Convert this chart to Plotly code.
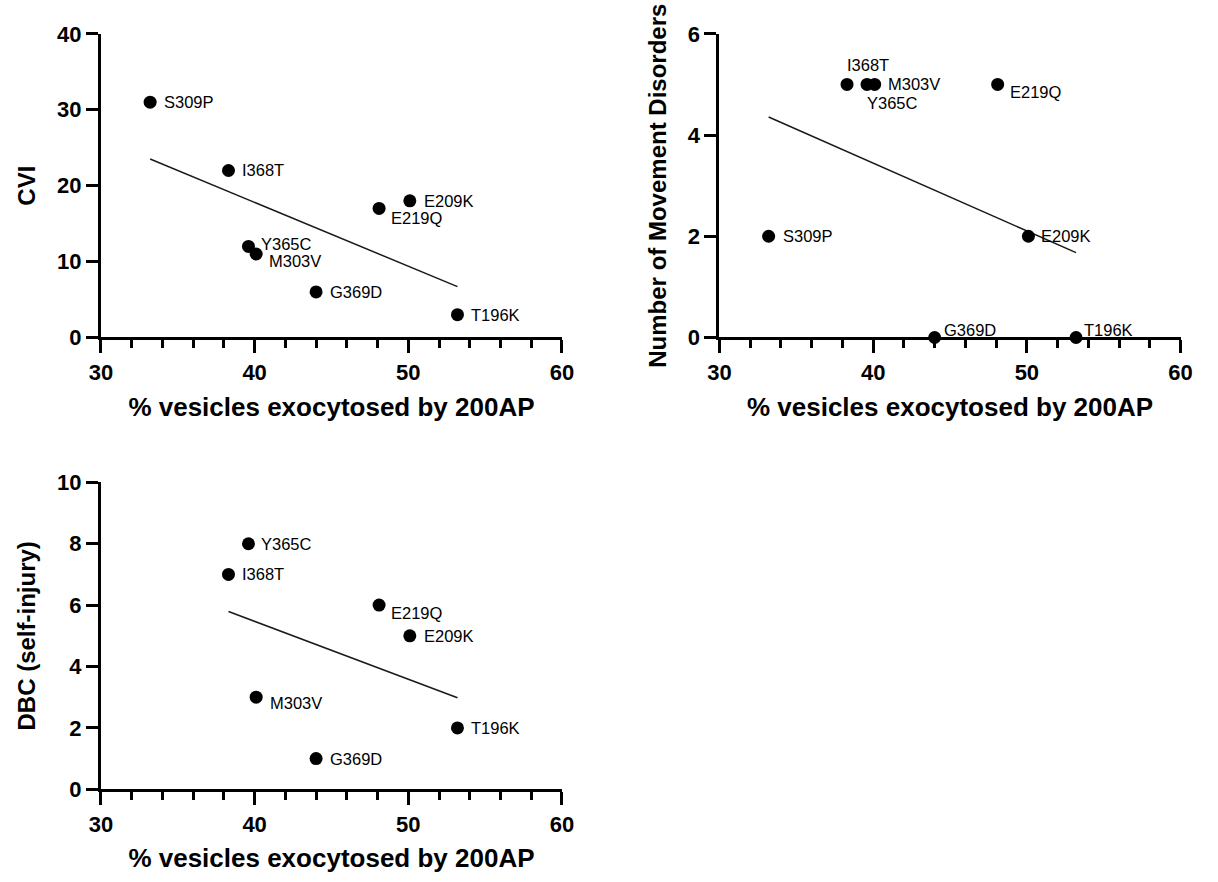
import numpy as np
import plotly.graph_objects as go

# Per-variant measurements
variants = ["S309P", "I368T", "Y365C", "M303V", "G369D", "E219Q", "E209K", "T196K"]
exocytosed = [33.2, 38.3, 39.6, 40.1, 44.0, 48.1, 50.1, 53.2]   # % vesicles exocytosed by 200AP
cvi = [31, 22, 12, 11, 6, 17, 18, 3]
movement_disorders = [2, 5, 5, 5, 0, 5, 2, 0]
dbc_self_injury = [None, 7, 8, 3, 1, 6, 5, 2]   # S309P has no DBC score

x_ticks = [30, 40, 50, 60]

# Label placement (pixel shifts from the point: dx, dy)
label_shift_cvi = {
    "S309P": (12, 0), "I368T": (12, 0), "Y365C": (11, 2), "M303V": (11, -7),
    "G369D": (12, 0), "E219Q": (10, -10), "E209K": (12, 0), "T196K": (12, 0),
}
label_shift_move = {
    "S309P": (12, 0), "I368T": (-2, 19), "Y365C": (-2, -19), "M303V": (11, 0),
    "G369D": (7, 7), "E219Q": (10, -8), "E209K": (11, 0), "T196K": (6, 7),
}
label_shift_dbc = {
    "I368T": (12, 0), "Y365C": (11, 0), "M303V": (12, -6),
    "G369D": (12, 0), "E219Q": (10, -8), "E209K": (12, 0), "T196K": (12, 0),
}

FONT = "Liberation Sans, Arial, Helvetica, sans-serif"
INK = "black"

fig = go.Figure()
annotations = []


def add_panel(xs, ys, shifts, xref, yref):
    pts = [(v, x, y) for v, x, y in zip(variants, xs, ys) if y is not None]
    px = np.array([p[1] for p in pts])
    py = np.array([p[2] for p in pts])
    # least-squares fit over the range of the data
    slope, icpt = np.polyfit(px, py, 1)
    fx = np.array([px.min(), px.max()])
    fig.add_trace(go.Scatter(
        x=fx, y=slope * fx + icpt, mode="lines",
        line=dict(color="#1a1a1a", width=1.5),
        xaxis=xref, yaxis=yref, hoverinfo="skip", showlegend=False,
    ))
    fig.add_trace(go.Scatter(
        x=px, y=py, mode="markers",
        marker=dict(color=INK, size=13),
        xaxis=xref, yaxis=yref, cliponaxis=False, showlegend=False,
        text=[p[0] for p in pts],
    ))
    for v, x, y in pts:
        dx, dy = shifts[v]
        annotations.append(dict(
            x=x, y=y, xref=xref, yref=yref, text=v, showarrow=False,
            xanchor="left", yanchor="middle", xshift=dx, yshift=dy,
            font=dict(family=FONT, size=16.5, color=INK),
        ))


add_panel(exocytosed, cvi, label_shift_cvi, "x", "y")
add_panel(exocytosed, movement_disorders, label_shift_move, "x2", "y2")
add_panel(exocytosed, dbc_self_injury, label_shift_dbc, "x3", "y3")

tickfont = dict(family=FONT, size=22, color=INK, weight="bold")


def xaxis_cfg(domain, anchor):
    return dict(
        domain=domain, anchor=anchor, range=[30, 60], tickvals=x_ticks,
        showline=True, linewidth=3, linecolor=INK, mirror=False,
        ticks="outside", ticklen=13, tickwidth=3, tickcolor=INK,
        minor=dict(dtick=2, tick0=30, ticks="outside", ticklen=8, tickwidth=3,
                   tickcolor=INK, showgrid=False),
        showgrid=False, zeroline=False, tickfont=tickfont,
        title=dict(text="% vesicles exocytosed by 200AP", standoff=14,
                   font=dict(family=FONT, size=26, color=INK, weight="bold")),
    )


def yaxis_cfg(domain, anchor, rng, dtick, title):
    return dict(
        domain=domain, anchor=anchor, range=rng, dtick=dtick, tick0=0,
        showline=True, linewidth=3, linecolor=INK,
        ticks="outside", ticklen=12, tickwidth=3, tickcolor=INK,
        showgrid=False, zeroline=False, tickfont=tickfont,
        title=dict(text=title, standoff=15,
                   font=dict(family=FONT, size=24, color=INK, weight="bold")),
    )


fig.update_layout(
    width=1218, height=882,
    margin=dict(l=0, r=0, t=0, b=0),
    paper_bgcolor="white", plot_bgcolor="white",
    showlegend=False,
    xaxis=xaxis_cfg([0.0745, 0.4606], "y"),
    yaxis=yaxis_cfg([0.6202, 0.9745], "x", [0, 40], 10, "CVI"),
    xaxis2=xaxis_cfg([0.5925, 0.9787], "y2"),
    yaxis2=yaxis_cfg([0.6202, 0.9745], "x2", [0, 6], 2, "Number of Movement Disorders"),
    xaxis3=xaxis_cfg([0.0745, 0.4606], "y3"),
    yaxis3=yaxis_cfg([0.0930, 0.4512], "x3", [0, 10], 2, "DBC (self-injury)"),
    annotations=annotations,
)

fig.write_html("out.html")
